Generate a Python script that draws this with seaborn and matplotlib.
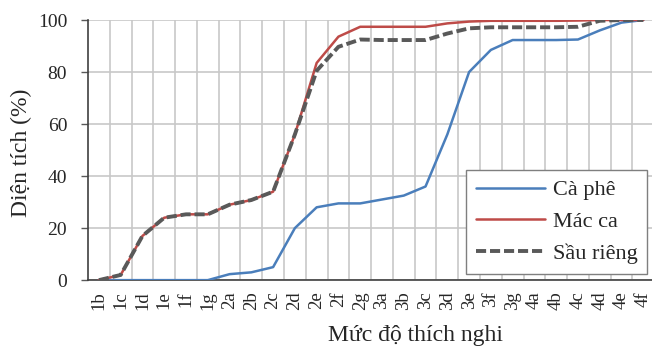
import matplotlib
matplotlib.use('Agg')
import matplotlib.pyplot as plt
import seaborn as sns
import pandas as pd
from matplotlib.ticker import FixedLocator

# categories of suitability level (x axis)
levels = ['1b', '1c', '1d', '1e', '1f', '1g', '2a', '2b', '2c', '2d', '2e', '2f', '2g',
          '3a', '3b', '3c', '3d', '3e', '3f', '3g', '4a', '4b', '4c', '4d', '4e', '4f']

# cumulative area (%)
ca_phe = [0, 0, 0, 0, 0, 0, 2.3, 3, 5, 20, 28, 29.5, 29.5,
          31, 32.5, 36, 56, 80, 88.5, 92.3, 92.3, 92.3, 92.5, 96, 99, 100]
mac_ca = [0, 2, 17, 24, 25.3, 25.3, 29, 30.8, 34, 56, 83.5, 93.6, 97.4,
          97.4, 97.4, 97.4, 98.7, 99.4, 99.7, 99.7, 99.7, 99.7, 99.8, 100, 100, 100]
sau_rieng = [0, 2, 17, 24, 25.3, 25.3, 29, 30.8, 34, 56, 80.5, 89.7, 92.5,
             92.3, 92.3, 92.3, 94.8, 96.8, 97.2, 97.2, 97.2, 97.2, 97.4, 99.7, 100, 100]

series_names = ['Cà phê', 'Mác ca', 'Sầu riêng']
colors = {'Cà phê': '#4a7ebb', 'Mác ca': '#be4b48', 'Sầu riêng': '#595959'}
widths = {'Cà phê': 1.8, 'Mác ca': 1.8, 'Sầu riêng': 2.8}
dashes = {'Cà phê': '', 'Mác ca': '', 'Sầu riêng': (2.6, 1.0)}

df = pd.DataFrame({'level': levels, 'Cà phê': ca_phe, 'Mác ca': mac_ca, 'Sầu riêng': sau_rieng})
long_df = df.melt(id_vars='level', var_name='series', value_name='area')

sns.set_style('white')
plt.rcParams['font.family'] = ['Liberation Serif', 'DejaVu Serif']

fig, ax = plt.subplots(figsize=(6.52, 3.48), dpi=100)
fig.subplots_adjust(left=0.135, right=1.0, bottom=0.195, top=0.9425)

for name in series_names:
    sub = long_df[long_df['series'] == name]
    sns.lineplot(data=sub, x='level', y='area', ax=ax, color=colors[name],
                 linewidth=widths[name], label=name, sort=False, zorder=3)
    if dashes[name]:
        ax.lines[-1].set_dashes(dashes[name])

ax.set_xlim(-0.5, 25.4)
ax.set_ylim(0, 100)
ax.set_yticks([0, 20, 40, 60, 80, 100])
ax.set_xticks(range(len(levels)))
ax.set_xticklabels(levels, rotation=90, fontsize=13.5)
ax.xaxis.set_minor_locator(FixedLocator([i + 0.5 for i in range(len(levels))]))
ax.tick_params(axis='x', which='both', length=0, pad=8)
ax.tick_params(axis='y', labelsize=14, length=5, width=1, color='#595959',
               direction='out', left=True, pad=10)

ax.grid(False)
ax.grid(axis='y', which='major', color='#c8c8c8', linewidth=1.2, zorder=0)
ax.grid(axis='x', which='minor', color='#c8c8c8', linewidth=1.2, zorder=0)
ax.set_axisbelow(True)

for side in ['top', 'right']:
    ax.spines[side].set_visible(False)
for side in ['left', 'bottom']:
    ax.spines[side].set_color('#404040')
    ax.spines[side].set_linewidth(1.2)

ax.set_xlabel('Mức độ thích nghi', fontsize=17)
ax.set_ylabel('Diện tích (%)', fontsize=17)
ax.xaxis.set_label_coords(0.58, -0.172)
ax.yaxis.set_label_coords(-0.099, 0.49)

leg = ax.legend(loc='lower right', bbox_to_anchor=(0.992, 0.025), fontsize=16,
                frameon=True, fancybox=False, edgecolor='#7f7f7f', framealpha=1,
                handlelength=3.1, labelspacing=0.5, borderpad=0.45, handletextpad=0.35,
                borderaxespad=0)
leg.get_frame().set_linewidth(1.0)

plt.savefig('out.png', dpi=100)
plt.close()
